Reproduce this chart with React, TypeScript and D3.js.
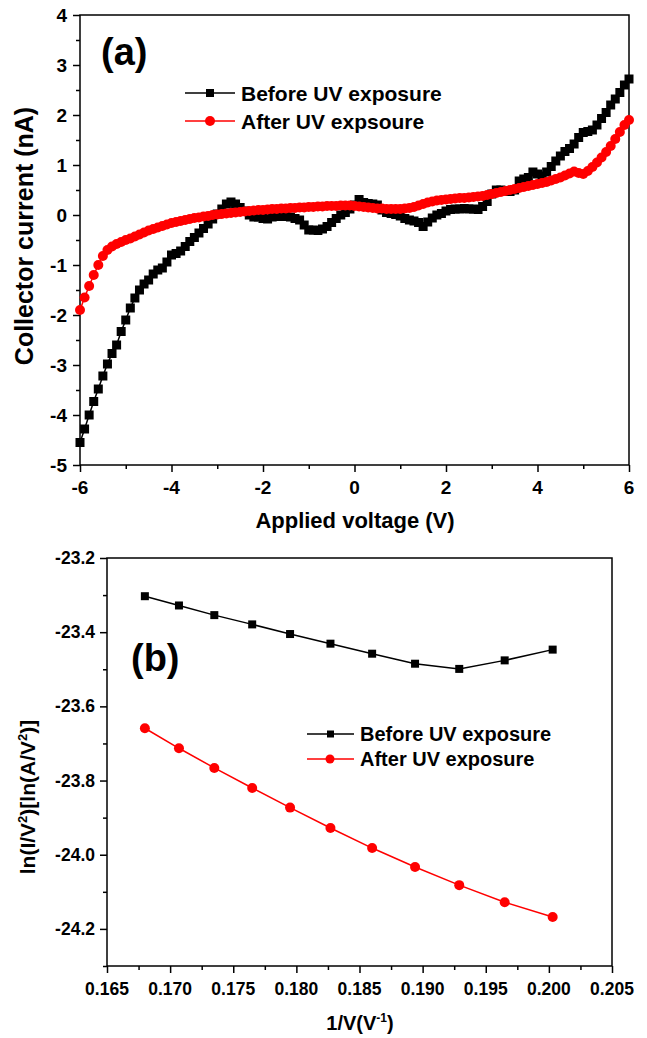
import React, { useRef, useEffect } from 'react';
import * as d3 from 'd3';

// panel (a): current vs applied voltage, 0.1 V steps from -6 to 6
const voltages = d3.range(-60, 61).map(i => i / 10);

const beforeCurrent = [
  -4.55, -4.28, -4.0, -3.73, -3.48, -3.22, -2.98, -2.77, -2.6, -2.33,
  -2.1, -1.86, -1.66, -1.5, -1.38, -1.3, -1.18, -1.1, -1.06, -0.94,
  -0.8, -0.77, -0.72, -0.63, -0.53, -0.45, -0.36, -0.27, -0.18, -0.08,
  0.02, 0.12, 0.22, 0.26, 0.22, 0.15, 0.08, 0.0, -0.04, -0.04,
  -0.07, -0.08, -0.04, -0.03, -0.03, -0.03, -0.04, -0.07, -0.1, -0.2,
  -0.3, -0.3, -0.31, -0.28, -0.23, -0.15, -0.07, 0.0, 0.05, 0.12,
  0.2, 0.31, 0.25, 0.23, 0.22, 0.2, 0.1, 0.05, 0.03, 0.01,
  -0.02, -0.07, -0.1, -0.12, -0.15, -0.23, -0.14, -0.06, 0.0, 0.03,
  0.08, 0.11, 0.12, 0.12, 0.13, 0.12, 0.12, 0.11, 0.17, 0.27,
  0.42, 0.5, 0.5, 0.48, 0.47, 0.5, 0.68, 0.72, 0.75, 0.86,
  0.82, 0.78, 0.86, 0.97, 1.08, 1.18, 1.27, 1.33, 1.42, 1.55,
  1.65, 1.67, 1.7, 1.8, 1.93, 2.05, 2.2, 2.32, 2.45, 2.6,
  2.72
];

const afterCurrent = [
  -1.9, -1.65, -1.42, -1.2, -1.0, -0.82, -0.7, -0.63, -0.58, -0.54,
  -0.5, -0.47, -0.43, -0.39, -0.35, -0.31, -0.28, -0.25, -0.22, -0.19,
  -0.16, -0.14, -0.12, -0.1, -0.08, -0.06, -0.05, -0.03, -0.02, 0.0,
  0.01, 0.02, 0.03, 0.04, 0.05, 0.06, 0.07, 0.08, 0.09, 0.1,
  0.1, 0.11, 0.12, 0.12, 0.13, 0.13, 0.14, 0.14, 0.15, 0.15,
  0.16, 0.16, 0.17, 0.17, 0.18, 0.18, 0.18, 0.19, 0.19, 0.19,
  0.18, 0.17, 0.16, 0.15, 0.14, 0.13, 0.13, 0.12, 0.12, 0.12,
  0.12, 0.13, 0.14, 0.16, 0.19, 0.22, 0.25, 0.27, 0.29, 0.3,
  0.31, 0.32, 0.33, 0.34, 0.34, 0.35, 0.36, 0.37, 0.38, 0.4,
  0.42, 0.44, 0.46, 0.48, 0.5, 0.52, 0.54, 0.56, 0.58, 0.6,
  0.62, 0.64, 0.66, 0.69, 0.72, 0.75, 0.79, 0.83, 0.87, 0.84,
  0.82, 0.88, 0.96, 1.05, 1.15, 1.26, 1.38, 1.52, 1.66, 1.8,
  1.9
];

// panel (b): Fowler-Nordheim plot
const invVoltage = [0.1680, 0.1707, 0.1735, 0.1765, 0.1795, 0.1827, 0.1860, 0.1894, 0.1929, 0.1965, 0.2003];
const beforeFN = [-23.303, -23.328, -23.354, -23.379, -23.405, -23.431, -23.458, -23.485, -23.499, -23.476, -23.447];
const afterFN = [-23.659, -23.713, -23.766, -23.820, -23.873, -23.928, -23.982, -24.033, -24.082, -24.128, -24.168];

const xTicksA = [-6, -4, -2, 0, 2, 4, 6];
const yTicksA = [-5, -4, -3, -2, -1, 0, 1, 2, 3, 4];
const xTicksB = [0.165, 0.170, 0.175, 0.180, 0.185, 0.190, 0.195, 0.200, 0.205];
const yTicksB = [-24.2, -24.0, -23.8, -23.6, -23.4, -23.2];

const legendA = ['Before UV exposure', 'After UV expsoure'];
const legendB = ['Before UV exposure', 'After UV exposure'];

const FONT = '"Liberation Sans", Arial, sans-serif';
const RED = '#ff0000';

const App = () => {
  const ref = useRef(null);

  useEffect(() => {
    const svg = d3.select(ref.current);
    svg.selectAll('*').remove();

    const text = (g, x, y, str, size, anchor = 'start', rotate = false) =>
      g.append('text')
        .attr('transform', `translate(${x},${y})` + (rotate ? ' rotate(-90)' : ''))
        .attr('text-anchor', anchor)
        .style('font-family', FONT)
        .style('font-weight', 'bold')
        .style('font-size', size + 'px')
        .style('fill', '#000')
        .text(str);

    const frame = (g, x, y) => {
      g.append('rect')
        .attr('x', x.range()[0]).attr('y', y.range()[1])
        .attr('width', x.range()[1] - x.range()[0])
        .attr('height', y.range()[0] - y.range()[1])
        .attr('fill', 'none').attr('stroke', '#000').attr('stroke-width', 1.5);
    };

    const axes = (g, x, y, majX, minX, majY, minY) => {
      const bottom = y.range()[0];
      const left = x.range()[0];
      g.append('g').attr('transform', `translate(0,${bottom})`)
        .call(d3.axisBottom(x).tickValues(minX).tickSize(4).tickFormat(() => ''))
        .call(a => a.select('.domain').remove());
      g.append('g').attr('transform', `translate(0,${bottom})`)
        .call(d3.axisBottom(x).tickValues(majX).tickSize(7).tickFormat(() => ''))
        .call(a => a.select('.domain').remove());
      g.append('g').attr('transform', `translate(${left},0)`)
        .call(d3.axisLeft(y).tickValues(minY).tickSize(4).tickFormat(() => ''))
        .call(a => a.select('.domain').remove());
      g.append('g').attr('transform', `translate(${left},0)`)
        .call(d3.axisLeft(y).tickValues(majY).tickSize(7).tickFormat(() => ''))
        .call(a => a.select('.domain').remove());
      g.selectAll('.tick line').attr('stroke', '#000').attr('stroke-width', 1.5);
    };

    // ---------- panel (a) ----------
    const xA = d3.scaleLinear().domain([-6, 6]).range([80, 629]);
    const yA = d3.scaleLinear().domain([-5, 4]).range([465, 15]);
    const gA = svg.append('g');

    axes(gA, xA, yA, xTicksA, d3.range(-5, 6, 2), yTicksA, d3.range(-4.5, 4, 1));
    frame(gA, xA, yA);

    xTicksA.forEach(t => text(gA, xA(t), 494, String(t), 19, 'middle'));
    yTicksA.forEach(t => text(gA, 67, yA(t) + 7, String(t), 19, 'end'));
    text(gA, 355, 528, 'Applied voltage (V)', 22, 'middle');
    text(gA, 33, 236, 'Collector current (nA)', 25, 'middle', true);
    text(gA, 101, 65, '(a)', 38);

    const lineA = d3.line().x((d, i) => xA(voltages[i])).y(d => yA(d));
    gA.append('path').datum(beforeCurrent)
      .attr('fill', 'none').attr('stroke', '#000').attr('stroke-width', 1.5)
      .attr('d', lineA);
    gA.selectAll('.sq').data(beforeCurrent).enter().append('rect')
      .attr('x', (d, i) => xA(voltages[i]) - 4.5)
      .attr('y', d => yA(d) - 4.5)
      .attr('width', 9).attr('height', 9).attr('fill', '#000');

    gA.append('path').datum(afterCurrent)
      .attr('fill', 'none').attr('stroke', RED).attr('stroke-width', 1.5)
      .attr('d', lineA);
    gA.selectAll('.dot').data(afterCurrent).enter().append('circle')
      .attr('cx', (d, i) => xA(voltages[i]))
      .attr('cy', d => yA(d))
      .attr('r', 5).attr('fill', RED);

    // legend (a)
    legendA.forEach((lab, i) => {
      const ly = 93 + i * 28;
      const col = i === 0 ? '#000' : RED;
      gA.append('line').attr('x1', 185).attr('x2', 235).attr('y1', ly).attr('y2', ly)
        .attr('stroke', col).attr('stroke-width', 1.5);
      if (i === 0) {
        gA.append('rect').attr('x', 206).attr('y', ly - 4).attr('width', 8).attr('height', 8).attr('fill', col);
      } else {
        gA.append('circle').attr('cx', 210).attr('cy', ly).attr('r', 5).attr('fill', col);
      }
      text(gA, 241, ly + 8, lab, 21);
    });

    // ---------- panel (b) ----------
    const xB = d3.scaleLinear().domain([0.165, 0.205]).range([107, 612]);
    const yB = d3.scaleLinear().domain([-24.3, -23.2]).range([966, 558]);
    const gB = svg.append('g');

    axes(gB, xB, yB, xTicksB, d3.range(0.1675, 0.205, 0.005), yTicksB, d3.range(-24.3, -23.2, 0.2));
    frame(gB, xB, yB);

    xTicksB.forEach(t => text(gB, xB(t), 995, t.toFixed(3), 17.5, 'middle'));
    yTicksB.forEach(t => text(gB, 95, yB(t) + 6, t.toFixed(1), 17.5, 'end'));

    const xt = text(gB, 360, 1030, '1/V(V', 20, 'middle');
    xt.append('tspan').attr('dy', -8).style('font-size', '12px').text('-1');
    xt.append('tspan').attr('dy', 8).text(')');

    const yt = text(gB, 35, 797, 'ln(I/V', 21, 'middle', true);
    yt.append('tspan').attr('dy', -8).style('font-size', '13px').text('2');
    yt.append('tspan').attr('dy', 8).text(')[ln(A/V');
    yt.append('tspan').attr('dy', -8).style('font-size', '13px').text('2');
    yt.append('tspan').attr('dy', 8).text(')]');

    text(gB, 131, 671, '(b)', 38);

    const lineB = d3.line().x((d, i) => xB(invVoltage[i])).y(d => yB(d));
    gB.append('path').datum(beforeFN)
      .attr('fill', 'none').attr('stroke', '#000').attr('stroke-width', 1.5)
      .attr('d', lineB);
    gB.selectAll('.sq').data(beforeFN).enter().append('rect')
      .attr('x', (d, i) => xB(invVoltage[i]) - 4)
      .attr('y', d => yB(d) - 4)
      .attr('width', 8).attr('height', 8).attr('fill', '#000');

    gB.append('path').datum(afterFN)
      .attr('fill', 'none').attr('stroke', RED).attr('stroke-width', 1.5)
      .attr('d', lineB);
    gB.selectAll('.dot').data(afterFN).enter().append('circle')
      .attr('cx', (d, i) => xB(invVoltage[i]))
      .attr('cy', d => yB(d))
      .attr('r', 5).attr('fill', RED);

    // legend (b)
    legendB.forEach((lab, i) => {
      const ly = 734 + i * 25;
      const col = i === 0 ? '#000' : RED;
      gB.append('line').attr('x1', 307).attr('x2', 354).attr('y1', ly).attr('y2', ly)
        .attr('stroke', col).attr('stroke-width', 1.5);
      if (i === 0) {
        gB.append('rect').attr('x', 327).attr('y', ly - 3.5).attr('width', 7).attr('height', 7).attr('fill', col);
      } else {
        gB.append('circle').attr('cx', 330).attr('cy', ly).attr('r', 4.5).attr('fill', col);
      }
      text(gB, 360, ly + 7, lab, 20);
    });
  }, []);

  return (
    <svg
      ref={ref}
      width={647}
      height={1038}
      style={{ position: 'absolute', left: 0, top: 0, background: '#fff' }}
    />
  );
};

export default App;
